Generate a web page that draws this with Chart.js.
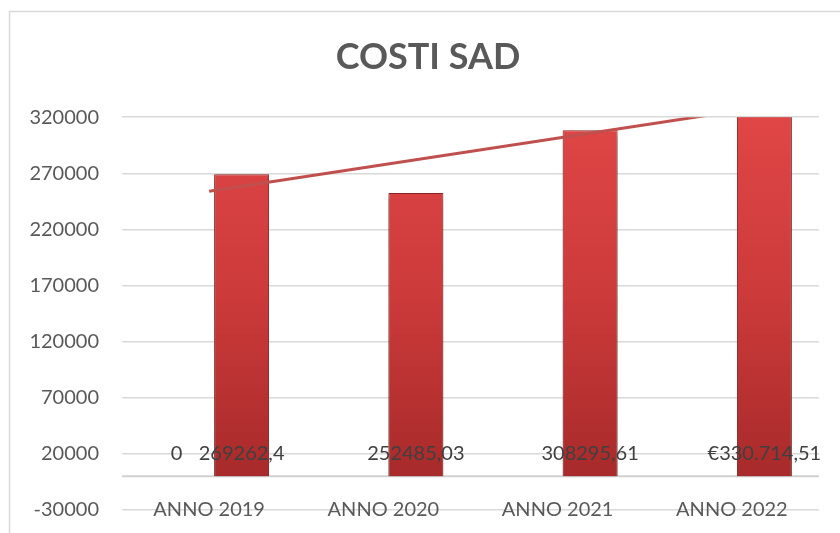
<!DOCTYPE html>
<html>
<head>
<meta charset="utf-8">
<script src="https://cdn.jsdelivr.net/npm/chart.js@4"></script>
<style>
  html, body { margin: 0; padding: 0; background: #fff; }
  #wrap { width: 840px; height: 533px; }
</style>
</head>
<body>
<div id="wrap"><canvas id="grafico" width="840" height="533"></canvas></div>
<script>
const anni = ["ANNO 2019", "ANNO 2020", "ANNO 2021", "ANNO 2022"];
const costi = [269262.4, 252485.03, 308295.61, 330714.51];
const serieZero = [0, null, null, null];
const etichetteCosti = ["269262,4", "252485,03", "308295,61", "€330.714,51"];
const etichetteZero = ["0", "", "", ""];
const tendenza = [254000, null, null, 325000];
const tickY = [-30000, 20000, 70000, 120000, 170000, 220000, 270000, 320000];

const grigioTesto = '#595959';

function sfumaturaBarra(context) {
  const chart = context.chart;
  const area = chart.chartArea;
  if (!area) return '#c0392b';
  const g = chart.ctx.createLinearGradient(0, area.top, 0, chart.scales.y.getPixelForValue(0));
  g.addColorStop(0, '#e04646');
  g.addColorStop(0.5, '#cc3a3a');
  g.addColorStop(1, '#a82a2a');
  return g;
}

const bordoEsterno = {
  id: 'bordoEsterno',
  beforeDraw(chart) {
    const ctx = chart.ctx;
    ctx.save();
    ctx.strokeStyle = '#d9d9d9';
    ctx.lineWidth = 1.5;
    ctx.strokeRect(9.5, 11.5, 900, 600);
    ctx.restore();
  }
};

const lineaZero = {
  id: 'lineaZero',
  beforeDatasetsDraw(chart) {
    const ctx = chart.ctx;
    const y = chart.scales.y.getPixelForValue(0);
    ctx.save();
    ctx.strokeStyle = '#d0d0d0';
    ctx.lineWidth = 2;
    ctx.beginPath();
    ctx.moveTo(chart.chartArea.left, y);
    ctx.lineTo(chart.chartArea.right, y);
    ctx.stroke();
    ctx.restore();
  }
};

const ombraBarre = {
  id: 'ombraBarre',
  beforeDatasetDraw(chart, args) {
    if (args.meta.type !== 'bar') return;
    const ctx = chart.ctx;
    ctx.save();
    ctx.shadowColor = 'rgba(0,0,0,0.35)';
    ctx.shadowBlur = 6;
    ctx.shadowOffsetY = 4;
  },
  afterDatasetDraw(chart, args) {
    if (args.meta.type !== 'bar') return;
    chart.ctx.restore();
  }
};

const etichetteDati = {
  id: 'etichetteDati',
  afterDatasetsDraw(chart) {
    const ctx = chart.ctx;
    const base = chart.scales.y.getPixelForValue(0);
    ctx.save();
    ctx.font = '20px Lato';
    ctx.fillStyle = '#404040';
    ctx.textAlign = 'center';
    ctx.textBaseline = 'middle';
    chart.data.datasets.forEach((ds, i) => {
      if (!ds.etichette) return;
      const meta = chart.getDatasetMeta(i);
      meta.data.forEach((el, j) => {
        const testo = ds.etichette[j];
        if (testo) ctx.fillText(testo, el.x, base - 23);
      });
    });
    ctx.restore();
  }
};

// niente spazio extra per le etichette agli estremi dell'asse
function senzaPadding(scale) {
  scale.paddingTop = 0;
  scale.paddingBottom = 0;
}

const ctx = document.getElementById('grafico').getContext('2d');

new Chart(ctx, {
  type: 'bar',
  data: {
    labels: anni,
    datasets: [
      {
        type: 'line',
        label: 'Tendenza',
        data: tendenza,
        spanGaps: true,
        borderColor: '#c0504d',
        borderWidth: 3,
        pointRadius: 0,
        fill: false,
        order: 0
      },
      {
        label: 'Zero',
        data: serieZero,
        etichette: etichetteZero,
        backgroundColor: sfumaturaBarra,
        categoryPercentage: 0.746,
        barPercentage: 0.846,
        order: 1
      },
      {
        label: 'Costi',
        data: costi,
        etichette: etichetteCosti,
        backgroundColor: sfumaturaBarra,
        borderColor: '#8e2626',
        borderWidth: 1,
        categoryPercentage: 0.746,
        barPercentage: 0.846,
        order: 1
      }
    ]
  },
  options: {
    responsive: false,
    animation: false,
    layout: { padding: { left: 16, right: 0, top: 0, bottom: 0 } },
    plugins: {
      legend: { display: false },
      tooltip: { enabled: false },
      title: {
        display: true,
        text: 'COSTI SAD',
        color: grigioTesto,
        font: { family: 'Lato', size: 36, weight: 'bold' },
        padding: { top: 36, bottom: 38 }
      }
    },
    scales: {
      x: {
        grid: { display: false },
        border: { display: false },
        ticks: {
          color: grigioTesto,
          font: { family: 'Lato', size: 20 },
          mirror: true,
          padding: -12,
          maxRotation: 0
        },
        afterFit(scale) { scale.height = 23; }
      },
      y: {
        min: -30000,
        max: 320000,
        grid: { color: '#d9d9d9', lineWidth: 1.5, drawTicks: false },
        border: { display: false },
        ticks: {
          color: grigioTesto,
          font: { family: 'Lato', size: 20 },
          padding: 23,
          callback: v => String(v)
        },
        afterBuildTicks(scale) {
          scale.ticks = tickY.map(v => ({ value: v }));
        },
        afterFit(scale) { scale.width = 106; senzaPadding(scale); }
      },
      y2: {
        position: 'right',
        grid: { display: false },
        border: { display: false },
        ticks: { display: false },
        afterFit(scale) { scale.width = 21; senzaPadding(scale); }
      }
    }
  },
  plugins: [bordoEsterno, lineaZero, ombraBarre, etichetteDati]
});
</script>
</body>
</html>
